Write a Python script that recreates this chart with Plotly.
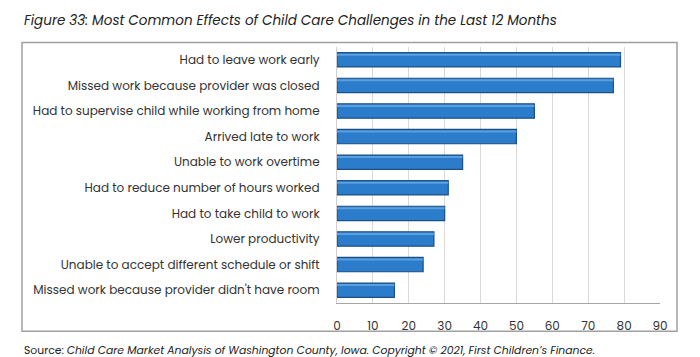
import plotly.graph_objects as go

categories = [
    "Had to leave work early",
    "Missed work because provider was closed",
    "Had to supervise child while working from home",
    "Arrived late to work",
    "Unable to work overtime",
    "Had to reduce number of hours worked",
    "Had to take child to work",
    "Lower productivity",
    "Unable to accept different schedule or shift",
    "Missed work because provider didn't have room",
]
values = [79, 77, 55, 50, 35, 31, 30, 27, 24, 16]
x_ticks = [0, 10, 20, 30, 40, 50, 60, 70, 80, 90]

W, H = 700, 357
L, R = 337, 660
T, B = 46.5, 302.8
pw, ph = R - L, B - T

def px(x):
    return (x - L) / pw

def py(y):
    return (B - y) / ph

FONT = "Poppins, 'Noto Sans', 'Open Sans', sans-serif"

fig = go.Figure()
fig.add_trace(go.Bar(
    x=values, y=categories, orientation="h",
    width=0.56,
    marker=dict(color="#2b7dcc", line=dict(color="#1d4f82", width=1.2)),
    hoverinfo="x+y",
))
# light highlight stripe along top of each bar
fig.add_trace(go.Bar(
    x=values, y=categories, orientation="h",
    width=0.08, offset=-0.24,
    marker=dict(color="#5a9fe0", line=dict(width=0)),
    hoverinfo="skip",
))

fig.update_layout(
    width=W, height=H,
    margin=dict(l=L, r=W - R, t=T, b=H - B),
    paper_bgcolor="white", plot_bgcolor="white",
    showlegend=False, barmode="overlay",
    font=dict(family=FONT, size=12, color="#333333"),
    xaxis=dict(
        range=[0, 90], tickvals=x_ticks, showgrid=True,
        gridcolor="#d9d9d9", gridwidth=1,
        showline=True, linecolor="#a6a6a6", linewidth=1,
        zeroline=False, ticks="", ticklabelstandoff=12,
        tickfont=dict(size=12, color="#333333"),
        fixedrange=True,
    ),
    yaxis=dict(
        categoryorder="array", categoryarray=categories,
        autorange="reversed",
        showline=True, linecolor="#cfcfcf", linewidth=1,
        showgrid=False, ticks="", ticklabelstandoff=14,
        tickfont=dict(size=12, color="#333333"),
        fixedrange=True,
    ),
    shapes=[dict(
        type="rect", xref="paper", yref="paper",
        x0=px(22), x1=px(677), y0=py(331), y1=py(42),
        line=dict(color="#a0a0a0", width=1.5), layer="below",
    )],
    annotations=[
        dict(
            text="<i>Figure 33: Most Common Effects of Child Care Challenges in the Last 12 Months</i>",
            xref="paper", yref="paper", x=px(22), y=py(20),
            xanchor="left", yanchor="middle", showarrow=False,
            font=dict(size=13.5, color="#222222", family=FONT),
        ),
        dict(
            text="Source: <i>Child Care Market Analysis of Washington County, Iowa. Copyright © 2021, First Children’s Finance.</i>",
            xref="paper", yref="paper", x=px(22), y=py(350),
            xanchor="left", yanchor="middle", showarrow=False,
            font=dict(size=10.8, color="#222222", family=FONT),
        ),
    ],
)

fig.write_html(
    "out.html",
    config={"displayModeBar": False},
    post_script="document.body.style.margin='0';document.body.style.overflow='hidden';",
)
